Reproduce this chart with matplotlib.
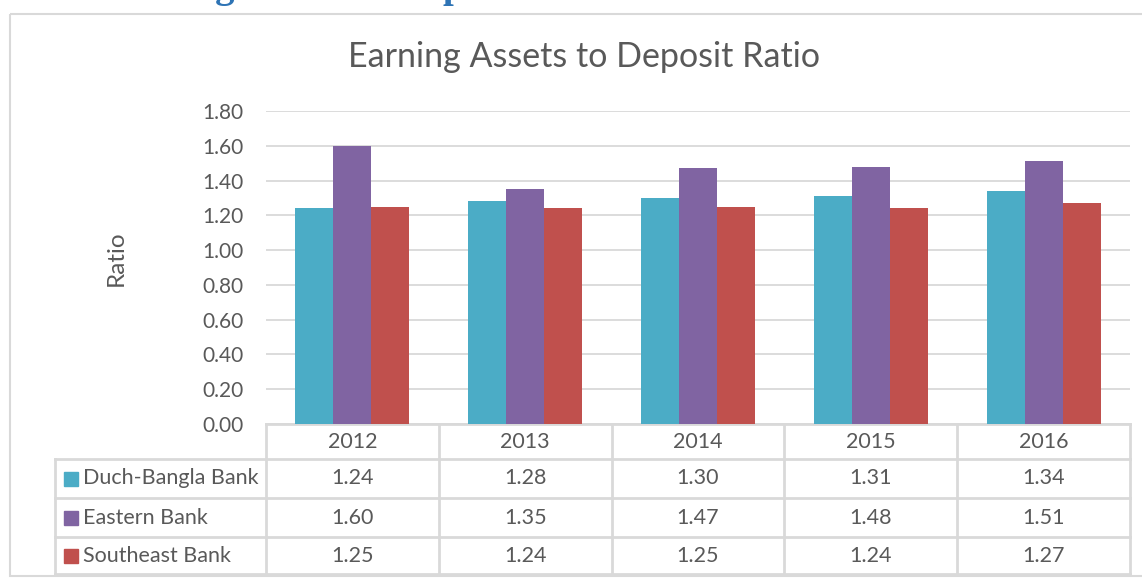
import numpy as np
import matplotlib
matplotlib.use('Agg')
import matplotlib.pyplot as plt
from matplotlib.patches import Rectangle

# data
years = ['2012', '2013', '2014', '2015', '2016']
banks = ['Duch-Bangla Bank', 'Eastern Bank', 'Southeast Bank']
duch_bangla = [1.24, 1.28, 1.30, 1.31, 1.34]
eastern = [1.60, 1.35, 1.47, 1.48, 1.51]
southeast = [1.25, 1.24, 1.25, 1.24, 1.27]
series = [duch_bangla, eastern, southeast]
colors = ['#4BACC6', '#8064A2', '#C0504D']

txt = '#595959'
grid = '#D9D9D9'
plt.rcParams['font.family'] = ['Lato', 'DejaVu Sans']

W, H = 1142, 579
fig = plt.figure(figsize=(W / 100, H / 100), dpi=100)

# overlay in pixel units for the border, heading and data table
ov = fig.add_axes([0, 0, 1, 1])
ov.set_xlim(0, W)
ov.set_ylim(H, 0)
ov.axis('off')

# plot area
L, R, T, B = 266, 1130, 111, 424
ax = fig.add_axes([L / W, 1 - B / H, (R - L) / W, (B - T) / H])
ax.set_facecolor('none')

x = np.arange(len(years))
bw = 0.22
for i, (vals, c) in enumerate(zip(series, colors)):
    ax.bar(x + (i - 1) * bw, vals, bw, color=c, zorder=3)

ax.set_xlim(-0.5, len(years) - 0.5)
ax.set_ylim(0, 1.8)
ax.set_yticks(np.arange(0, 1.81, 0.2))
ax.set_yticklabels([f'{v:.2f}' for v in np.arange(0, 1.81, 0.2)])
ax.set_xticks([])
ax.tick_params(axis='y', length=0, pad=16, labelsize=15, labelcolor=txt)
ax.grid(axis='y', color=grid, lw=1.3, zorder=0)
for s in ax.spines.values():
    s.set_visible(False)
ax.set_ylabel('Ratio', fontsize=17.5, color=txt)
ax.yaxis.set_label_coords(-0.161, 0.53)

# title and cut-off heading above the chart
fig.text(584 / W, 1 - 57 / H, 'Earning Assets to Deposit Ratio', fontsize=24.5,
         color=txt, ha='center', va='center')
fig.text(40 / W, 1 + 3 / H, '4.3 Earning Assets to Deposit Ratio', fontsize=28,
         family='Liberation Serif', weight='bold', color='#2E74B5',
         ha='left', va='baseline')

# outer chart border
ov.add_patch(Rectangle((10, 14), 1160, 562, fill=False, ec=grid, lw=1.5))

# data table
col_w = (R - L) / len(years)
rows = [424, 459, 498, 537, 574]
leg_x = 55
lc = '#D9D9D9'
ov.plot([L, R], [rows[0], rows[0]], color=lc, lw=2)
for yy in rows[1:]:
    ov.plot([leg_x, R], [yy, yy], color=lc, lw=2)
ov.plot([leg_x, leg_x], [rows[1], rows[-1]], color=lc, lw=2)
for k in range(len(years) + 1):
    xx = L + k * col_w
    ov.plot([xx, xx], [rows[0], rows[-1]], color=lc, lw=2)

for k, yr in enumerate(years):
    cx = L + (k + 0.5) * col_w
    ov.text(cx, (rows[0] + rows[1]) / 2, yr, fontsize=15.5, color=txt,
            ha='center', va='center')
    for j, vals in enumerate(series):
        cy = (rows[j + 1] + rows[j + 2]) / 2
        ov.text(cx, cy, f'{vals[k]:.2f}', fontsize=15.5, color=txt,
                ha='center', va='center')

for j, (name, c) in enumerate(zip(banks, colors)):
    cy = (rows[j + 1] + rows[j + 2]) / 2
    ov.add_patch(Rectangle((64, cy - 7), 14, 14, color=c))
    ov.text(83, cy, name, fontsize=15.5, color=txt, ha='left', va='center')

fig.savefig('out.png', dpi=100)
